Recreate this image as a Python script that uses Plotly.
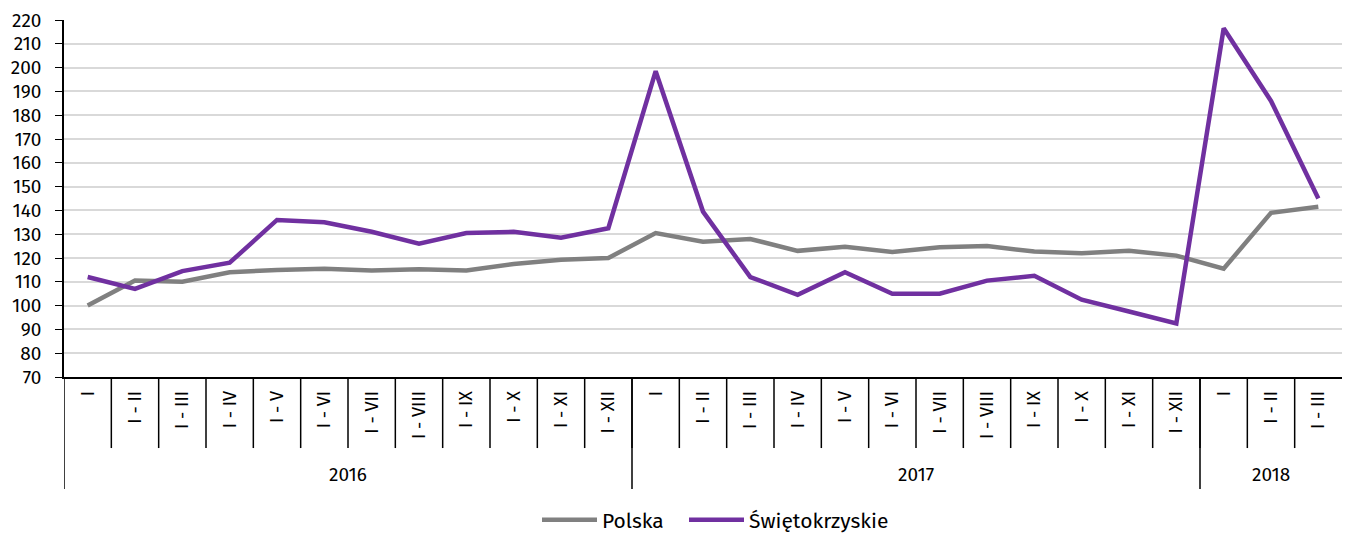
import plotly.graph_objects as go

months = ["I", "I - II", "I - III", "I - IV", "I - V", "I - VI", "I - VII", "I - VIII",
          "I - IX", "I - X", "I - XI", "I - XII",
          "I", "I - II", "I - III", "I - IV", "I - V", "I - VI", "I - VII", "I - VIII",
          "I - IX", "I - X", "I - XI", "I - XII",
          "I", "I - II", "I - III"]
years = ["2016", "2017", "2018"]
year_counts = [12, 12, 3]

polska = [100, 110.5, 110, 114, 115, 115.5, 114.8, 115.3, 114.8, 117.5, 119.3, 120,
          130.5, 126.8, 128, 123, 124.7, 122.5, 124.5, 125, 122.7, 122, 123, 121,
          115.5, 139, 141.5]
swietokrzyskie = [112, 107, 114.5, 118, 136, 135, 131, 126, 130.5, 131, 128.5, 132.5,
                  198.5, 139.5, 112, 104.5, 114, 105, 105, 110.5, 112.5, 102.5, 97.5, 92.5,
                  216.5, 186, 145]

FONT = "Fira Sans, Lato, sans-serif"
xi = list(range(len(months)))

fig = go.Figure()
fig.add_trace(go.Scatter(x=xi, y=polska, mode="lines", name="Polska", legendwidth=77,
                         line=dict(color="#808080", width=4.5)))
fig.add_trace(go.Scatter(x=xi, y=swietokrzyskie, mode="lines", name="Świętokrzyskie",
                         line=dict(color="#7030A0", width=4.5)))

shapes = []
annotations = []
for i in range(1, len(months)):
    shapes.append(dict(type="line", xref="x", yref="paper", x0=i - 0.5, x1=i - 0.5,
                       y0=0, y1=-0.199, line=dict(color="black", width=1.5)))
start = 0
bounds = [0]
for y, c in zip(years, year_counts):
    annotations.append(dict(text=y, xref="x", yref="paper", x=start + (c - 1) / 2,
                            y=-0.2745, showarrow=False, yanchor="middle",
                            font=dict(family=FONT, size=19, color="black")))
    start += c
    bounds.append(start)
for b in bounds[:-1]:
    shapes.append(dict(type="line", xref="x", yref="paper", x0=b - 0.5, x1=b - 0.5,
                       y0=0, y1=-0.314, line=dict(color="black", width=1.5)))

fig.update_layout(
    width=1356, height=535,
    margin=dict(l=64, r=14, t=20, b=158),
    plot_bgcolor="white", paper_bgcolor="white",
    font=dict(family=FONT, size=19, color="black"),
    shapes=shapes, annotations=annotations,
    showlegend=True,
    legend=dict(orientation="h", xref="container", yref="container",
                x=537 / 1356, xanchor="left", y=15 / 535, yanchor="middle",
                itemwidth=55,
                font=dict(family=FONT, size=21, color="black")),
    xaxis=dict(range=[-0.5, len(months) - 0.5], tickmode="array", tickvals=xi,
               ticktext=months, tickangle=-90, showgrid=False, zeroline=False,
               showline=True, linecolor="black", linewidth=1.5, ticks="",
               automargin=False, ticklabelstandoff=5,
               tickfont=dict(family=FONT, size=18, color="black")),
    yaxis=dict(range=[70, 220], dtick=10, tick0=70, showgrid=True, gridcolor="#d9d9d9",
               gridwidth=1.5, zeroline=False, showline=True, linecolor="black",
               linewidth=1.5, ticks="outside", ticklen=7, tickcolor="black",
               automargin=False, ticklabelstandoff=10,
               tickfont=dict(family=FONT, size=19, color="black")),
)

fig.write_html("out.html", config={"displayModeBar": False},
               post_script="document.body.style.margin='0px';")
